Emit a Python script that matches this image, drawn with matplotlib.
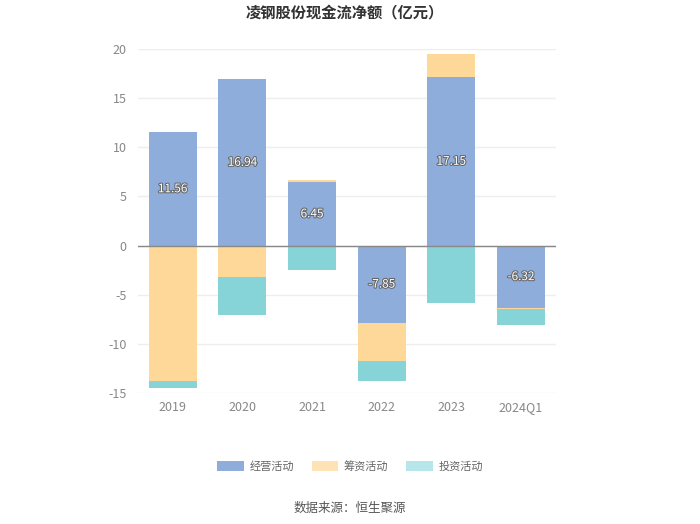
import matplotlib.pyplot as plt
import matplotlib.patheffects as pe
from matplotlib.patches import Patch
import numpy as np

plt.rcParams['font.family'] = ['Noto Sans CJK SC', 'DejaVu Sans']
plt.rcParams['axes.unicode_minus'] = False

periods = ['2019', '2020', '2021', '2022', '2023', '2024Q1']
operating = [11.56, 16.94, 6.45, -7.85, 17.15, -6.32]
financing = [-13.77, -3.18, 0.25, -3.93, 2.34, -0.11]
investing = [-0.75, -3.93, -2.44, -1.96, -5.82, -1.69]

series = [('经营活动', operating, '#8eaddb', '#8eaddb'),
          ('筹资活动', financing, '#fed899', '#ffe3b4'),
          ('投资活动', investing, '#86d4d8', '#b7e6ea')]

fig = plt.figure(figsize=(7, 5.24), dpi=100)
ax = fig.add_axes([0.197, 0.25, 0.597, 0.6565])

x = np.arange(len(periods))
pos_base = np.zeros(len(periods))
neg_base = np.zeros(len(periods))
for name, vals, color, _ in series:
    vals = np.array(vals)
    base = np.where(vals >= 0, pos_base, neg_base)
    ax.bar(x, vals, bottom=base, width=0.69, color=color, zorder=2)
    pos_base += np.where(vals >= 0, vals, 0)
    neg_base += np.where(vals < 0, vals, 0)

for i, v in enumerate(operating):
    ax.text(i, v / 2, f'{v:.2f}', ha='center', va='center', fontsize=8.5,
            color='white', zorder=4,
            path_effects=[pe.withStroke(linewidth=1.5, foreground='#666666')])

ax.set_xlim(-0.5, 5.5)
ax.set_ylim(-15, 20)
ax.set_yticks(range(-15, 21, 5))
ax.set_xticks(x)
ax.set_xticklabels(periods)
ax.grid(axis='y', color='#eeeeee', linewidth=1, zorder=0)
ax.axhline(0, color='#888888', linewidth=1, zorder=3)
for s in ax.spines.values():
    s.set_visible(False)
ax.tick_params(length=0, colors='#888888', labelsize=9)
ax.tick_params(axis='x', pad=6)
ax.tick_params(axis='y', pad=8)

handles = [Patch(facecolor=lc, edgecolor='none', label=name) for name, _, _, lc in series]
fig.legend(handles=handles, loc='center', bbox_to_anchor=(0.5, 0.11), ncol=3,
           frameon=False, fontsize=8, labelcolor='#666666', handlelength=2.4,
           handleheight=1.1, columnspacing=1.6, handletextpad=0.5)

fig.text(0.493, 0.976, '凌钢股份现金流净额（亿元）', ha='center', va='center',
         fontsize=11, fontweight='bold', color='#333333')
fig.text(0.5, 0.03, '数据来源：恒生聚源', ha='center', va='center',
         fontsize=9, color='#555555')

fig.savefig('out.png', dpi=100)
